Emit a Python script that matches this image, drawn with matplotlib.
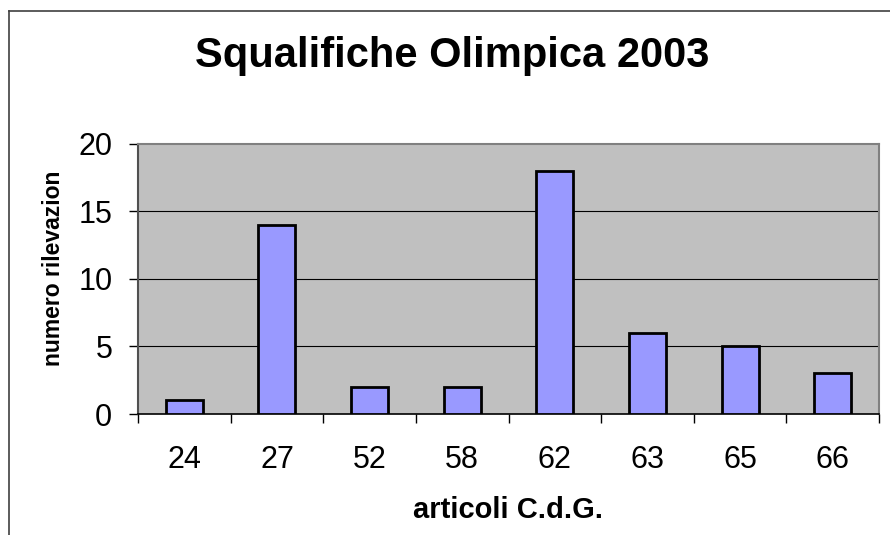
import numpy as np
import matplotlib.pyplot as plt
from matplotlib.lines import Line2D
from matplotlib.transforms import Bbox

# data
categories = ['24', '27', '52', '58', '62', '63', '65', '66']
counts = [1, 14, 2, 2, 18, 6, 5, 3]
y_ticks = [0, 5, 10, 15, 20]

title = 'Squalifiche Olimpica 2003'
x_label = 'articoli C.d.G.'
y_label = 'numero rilevazion'

plt.rcParams['font.family'] = ['Liberation Sans', 'DejaVu Sans']

W, H = 890, 535
fig = plt.figure(figsize=(W / 100, H / 100), dpi=100)
fig.patch.set_facecolor('white')

# plot area in pixels: left 138, right 879, top 143.5, bottom 414
ax = fig.add_axes([138 / W, 1 - 414 / H, (879 - 138) / W, (414 - 143.5) / H])
ax.set_facecolor('#C0C0C0')

x = np.arange(len(categories))
ax.bar(x, counts, width=0.4, color='#9999FF', edgecolor='black', linewidth=2, zorder=3)

ax.set_xlim(-0.5, len(categories) - 0.5)
ax.set_ylim(0, 20)

# horizontal gridlines
for v in y_ticks[1:-1]:
    ax.axhline(v, color='black', linewidth=0.8, zorder=1)

ax.set_yticks(y_ticks)
ax.set_yticklabels([str(v) for v in y_ticks])
ax.tick_params(axis='y', direction='out', length=6.5, width=1, pad=12, labelsize=22, colors='black')

ax.set_xticks(x)
ax.set_xticklabels(categories)
ax.tick_params(axis='x', which='major', length=0, pad=22, labelsize=22)
ax.set_xticks(np.arange(len(categories) + 1) - 0.5, minor=True)
ax.tick_params(axis='x', which='minor', direction='out', length=6.5, width=1, color='black')

ax.spines['top'].set_color('#808080')
ax.spines['right'].set_color('#808080')
ax.spines['top'].set_linewidth(1.5)
ax.spines['right'].set_linewidth(1.5)
ax.spines['left'].set_color('#505050')
ax.spines['left'].set_linewidth(1.5)
ax.spines['bottom'].set_color('black')
ax.spines['bottom'].set_linewidth(1.2)

fig.text(452 / W, 1 - 67 / H, title, ha='center', va='baseline',
         fontsize=30, fontweight='bold')
fig.text(508 / W, 1 - 518 / H, x_label, ha='center', va='baseline',
         fontsize=21, fontweight='bold')
yl = fig.text(54 / W, 1 - 268 / H, y_label, ha='center', va='center',
              rotation=90, fontsize=16.5, fontweight='bold')
yl.set_clip_box(Bbox.from_extents(0, 0, W, H - 168))
yl.set_clip_on(True)

# outer chart border (cut at right and bottom)
border_col = '#404040'
fig.add_artist(Line2D([8.5 / W, 8.5 / W], [0, 1 - 10.5 / H], transform=fig.transFigure,
                      color=border_col, linewidth=1.2))
fig.add_artist(Line2D([8.5 / W, 1], [1 - 10.5 / H, 1 - 10.5 / H], transform=fig.transFigure,
                      color=border_col, linewidth=1.2))

fig.savefig('out.png', dpi=100)
